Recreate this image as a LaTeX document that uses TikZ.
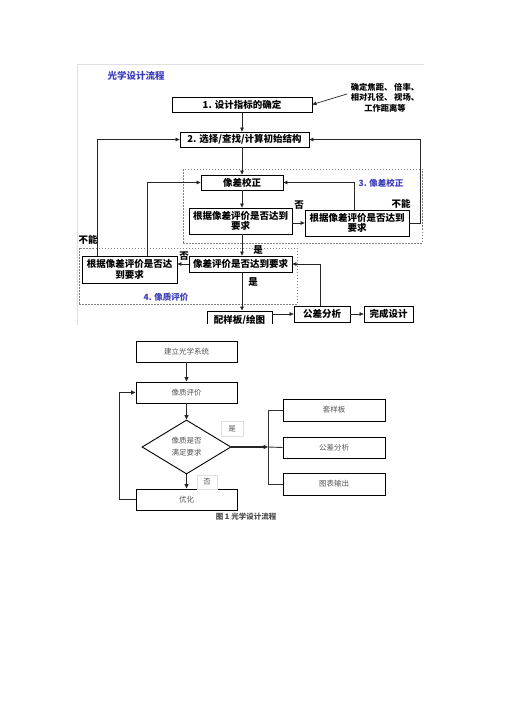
\documentclass[tikz,border=0pt]{standalone}
\usepackage{fontspec}
\newfontfamily\cjk{Noto Sans CJK SC}
\usetikzlibrary{arrows.meta,shapes.geometric}
\definecolor{tblue}{RGB}{60,60,190}
\definecolor{lgray}{RGB}{85,85,85}
\begin{document}
\begin{tikzpicture}[x=1pt,y=-1pt,
  tbox/.style={draw=black, line width=0.8pt, inner sep=0pt, align=center,
    font=\cjk\bfseries\fontsize{9.5}{10.5}\selectfont},
  arr/.style={-{Triangle[length=4pt,width=3.6pt]}, line width=0.7pt, draw=black!85},
  ln/.style={line width=0.7pt, draw=black!85},
  dreg/.style={draw=gray, dash pattern=on 1.5pt off 1.5pt, line width=0.6pt, inner sep=0pt},
  lbl/.style={inner sep=0pt, font=\cjk\bfseries\fontsize{9.5}{10.5}\selectfont},
  blbl/.style={inner sep=0pt, text=tblue, font=\cjk\bfseries\fontsize{8.5}{10.5}\selectfont},
  bbox/.style={draw=black, line width=0.9pt, inner sep=0pt, align=center, text=lgray,
    minimum width=101pt, minimum height=21pt, font=\cjk\fontsize{7.5}{11}\selectfont},
  barr/.style={-{Triangle[length=4.5pt,width=4pt]}, line width=1.1pt, draw=black!85},
  bln/.style={line width=0.9pt, draw=black!80},
  tagbox/.style={draw=gray!25, line width=0.6pt, inner sep=0pt, text=lgray,
    font=\cjk\fontsize{7.5}{9}\selectfont}
]
\useasboundingbox (0,0) rectangle (505,714);
\fill[white] (0,0) rectangle (505,714);

% ---------- top flowchart ----------
\draw[gray!25, line width=0.6pt] (77,64) -- (424,64);
\draw[gray!25, line width=0.6pt] (77,64) -- (77,325);
\begin{scope}
\clip (76,62) rectangle (428,323.5);
\node[blbl, font=\cjk\bfseries\fontsize{9.5}{10.5}\selectfont] (title) at (136,76) {光学设计流程};

\node[dreg, minimum width=239pt, minimum height=74pt] (r3) at (302.5,206) {};
\node[dreg, minimum width=218pt, minimum height=56pt] (r4) at (188,276) {};
\node[blbl] (r3lbl) at (381,183.5) {3. 像差校正};
\node[blbl] (r4lbl) at (166,297) {4. 像质评价};

\node[tbox, minimum width=140pt, minimum height=15pt] (b1) at (242,104.5) {1. 设计指标的确定};
\node[inner sep=0pt, align=center, font=\cjk\bfseries\fontsize{8.3}{10.5}\selectfont] (ann) at (385,97.5)
  {确定焦距、 倍率、\\相对孔径、 视场、\\工作距离等};
\coordinate (annend) at (347,94);
\node[tbox, minimum width=129pt, minimum height=15pt] (b2) at (244.5,139.5) {2. 选择/查找/计算初始结构};
\node[tbox, minimum width=82pt, minimum height=15pt] (b3) at (242,182.5) {像差校正};
\node[tbox, minimum width=103pt, minimum height=26pt] (b4) at (240.5,221) {根据像差评价是否达到\\要求};
\node[tbox, minimum width=104pt, minimum height=26pt] (b5) at (357,223) {根据像差评价是否达到\\要求};
\node[tbox, minimum width=103pt, minimum height=16pt] (b6) at (240.5,264) {像差评价是否达到要求};
\node[tbox, minimum width=95pt, minimum height=27pt] (b7) at (129.5,269.5) {根据像差评价是否达\\到要求};
\node[tbox, minimum width=65pt, minimum height=19pt, anchor=north] (b8) at (239.5,310.5) {\raisebox{-1.5pt}{配样板/绘图}};
\node[tbox, minimum width=56pt, minimum height=16pt] (b9) at (322,314) {公差分析};
\node[tbox, minimum width=49pt, minimum height=16pt] (b10) at (388.5,314) {完成设计};

\draw[arr] (annend) -- (b1.east);
\draw[arr] (b1.south) -- (b1.south |- b2.north);
\draw[arr] (b2.south -| b3.north) -- (b3.north);
\draw[arr] (b3.south) -- (b3.south |- b4.north);
\draw[arr] (b3.south |- b4.south) -- (b3.south |- b6.north);
\draw[arr] (b3.south |- b6.south) -- (b3.south |- b8.north);
\draw[arr] (b4.east |- b5.west) -- (b5.west);
\draw[arr] (b6.west) -- (b6.west -| b7.east);
\draw[arr] (b8.east |- b9.west) -- (b9.west);
\draw[arr] (b9.east) -- (b10.west);
\draw[arr] ([xshift=-2pt]b9.north) |- (b6.east);
\draw[arr] ([xshift=16pt]b7.north west) |- (b2.west);
\draw[arr] ([xshift=66pt]b7.north west) |- (b3.west);
\draw[arr] ([xshift=50pt]b5.north west) |- (b3.east);
\draw[arr] (b5.east) -- ++(11,0) |- (b2.east);

\node[lbl] (no1) at (299,205) {否};
\node[lbl] (cant1) at (401,203.5) {不能};
\node[lbl] (yes1) at (258,250) {是};
\node[lbl] (no2) at (184,256) {否};
\node[lbl] (cant2) at (88,239.5) {不能};
\node[lbl] (yes2) at (253,282) {是};
\end{scope}

% ---------- bottom flowchart ----------
\node[bbox] (c1) at (186.5,351.5) {建立光学系统};
\node[bbox] (c2) at (186.5,392.5) {像质评价};
\node[draw=black, line width=0.9pt, diamond, aspect=1.65, minimum width=89pt, minimum height=54pt,
  inner sep=0pt, align=center, text=lgray, font=\cjk\fontsize{7.5}{12}\selectfont] (c3) at (186.5,447) {像质是否\\满足要求};
\node[bbox] (c4) at (186.5,499.5) {优化};
\node[bbox, minimum width=102pt, minimum height=22pt] (d1) at (334,410) {套样板};
\node[bbox, minimum width=102pt, minimum height=21pt] (d2) at (334,447.5) {公差分析};
\node[bbox, minimum width=102pt, minimum height=22pt] (d3) at (334,484) {图表输出};
\node[tagbox, minimum width=22pt, minimum height=15pt] (yes3) at (232,428.5) {是};
\node[tagbox, minimum width=20pt, minimum height=14pt] (no3) at (207,482) {否};
\coordinate (jn) at (268,447);

\draw[barr] (c1.south) -- (c2.north);
\draw[barr] (c2.south) -- (c3.north);
\draw[barr] (c3.south) -- (c4.north);
\draw[barr] (c3.east) -- (jn);
\draw[bln] (jn |- d1.west) -- (jn |- d3.west);
\draw[bln] (jn |- d1.west) -- (d1.west);
\draw[bln] (jn) -- (d2.west);
\draw[bln] (jn |- d3.west) -- (d3.west);
\draw[barr] (c4.west) -- ++(-16,0) |- (c2.west);

\node[inner sep=0pt, text=black!70, font=\cjk\bfseries\fontsize{7.5}{9}\selectfont] (cap) at (246,517) {图 1 光学设计流程};
\end{tikzpicture}
\end{document}
